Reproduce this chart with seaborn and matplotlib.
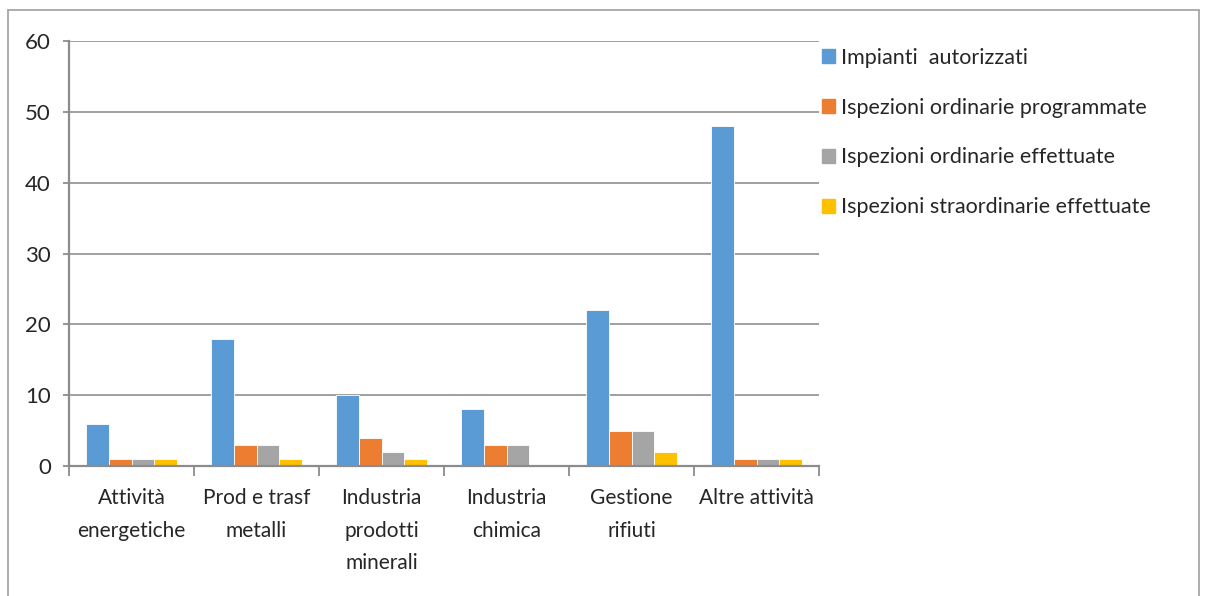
import matplotlib
matplotlib.use("Agg")
import matplotlib.pyplot as plt
import seaborn as sns
import pandas as pd
from matplotlib.lines import Line2D

categories = ["Attività\nenergetiche", "Prod e trasf\nmetalli", "Industria\nprodotti\nminerali",
              "Industria\nchimica", "Gestione\nrifiuti", "Altre attività"]
series_names = ["Impianti  autorizzati", "Ispezioni ordinarie programmate",
                "Ispezioni ordinarie effettuate", "Ispezioni straordinarie effettuate"]
impianti = [6, 18, 10, 8, 22, 48]
ord_prog = [1, 3, 4, 3, 5, 1]
ord_eff = [1, 3, 2, 3, 5, 1]
straord_eff = [1, 1, 1, 0, 2, 1]
colors = ["#5B9BD5", "#ED7D31", "#A5A5A5", "#FFC000"]
yticks = [0, 10, 20, 30, 40, 50, 60]

rows = []
for name, vals in zip(series_names, [impianti, ord_prog, ord_eff, straord_eff]):
    for c, v in zip(categories, vals):
        rows.append({"cat": c, "serie": name, "val": v})
df = pd.DataFrame(rows)

sns.set_theme(style="white")
plt.rcParams['font.family'] = ['Lato', 'DejaVu Sans']

FS = 15
fig = plt.figure(figsize=(12.05, 5.96), dpi=100)
ax = fig.add_axes([69/1205, 1 - 466/596, 750/1205, 425/596])

sns.barplot(data=df, x="cat", y="val", hue="serie", palette=colors, width=0.73,
            gap=0, ax=ax, edgecolor="white", linewidth=0.6, saturation=1)

ax.set_ylim(0, 60)
ax.set_xlim(-0.5, 5.5)
ax.set_yticks(yticks)
ax.set_yticklabels([str(t) for t in yticks], fontsize=FS + 1)
ax.yaxis.grid(True, color="#A0A0A0", linewidth=1.4)
ax.set_axisbelow(True)
ax.set_xlabel("")
ax.set_ylabel("")
ax.set_xticks([i + 0.5 for i in range(-1, 6)], minor=False)
ax.set_xticklabels([])
ax.set_xticks(range(6), minor=True)
ax.set_xticklabels(categories, minor=True, fontsize=FS, linespacing=1.78, va="top")
ax.tick_params(axis="x", which="major", length=7, color="#8C8C8C", width=1.3, direction="out", bottom=True)
ax.tick_params(axis="x", which="minor", length=0, pad=16)
ax.tick_params(axis="y", length=4.5, color="#8C8C8C", width=1.3, left=True, pad=8.5)
for s in ["top", "right"]:
    ax.spines[s].set_visible(False)
for s in ["left", "bottom"]:
    ax.spines[s].set_color("#8C8C8C")
    ax.spines[s].set_linewidth(1.6)

handles = [plt.Rectangle((0, 0), 1, 1, color=c) for c in colors]
ax.legend(handles, series_names, loc="upper left", bbox_to_anchor=(822/1205, 1 - 48/596),
          bbox_transform=fig.transFigure, frameon=False, fontsize=FS + 0.5, handlelength=0.62,
          handleheight=0.62, handletextpad=0.25, labelspacing=1.38, borderaxespad=0,
          borderpad=0)

# outer chart border
fig.add_artist(Line2D([8/1205, 1199/1205], [1 - 10/596, 1 - 10/596], color="#A6A6A6", lw=1.3,
                      transform=fig.transFigure))
fig.add_artist(Line2D([8/1205, 8/1205], [1 - 10/596, 0], color="#A6A6A6", lw=1.3,
                      transform=fig.transFigure))
fig.add_artist(Line2D([1199/1205, 1199/1205], [1 - 10/596, 0], color="#A6A6A6", lw=1.3,
                      transform=fig.transFigure))

fig.savefig("out.png", dpi=100)
